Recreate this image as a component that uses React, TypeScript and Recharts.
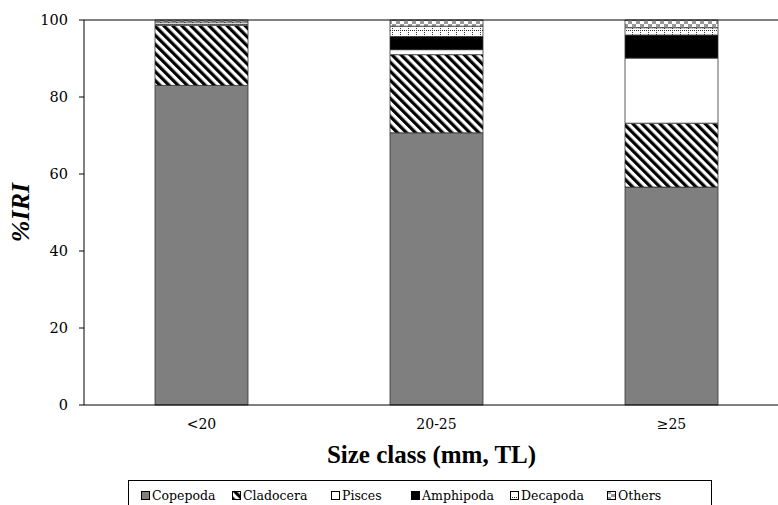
import { BarChart, Bar, XAxis, YAxis, ReferenceLine } from "recharts";

const categories = ["<20", "20-25", "\u226525"];
const copepoda = [83.0, 70.7, 56.6];
const cladocera = [15.6, 20.3, 16.6];
const pisces = [0.3, 1.3, 16.9];
const amphipoda = [0, 3.4, 6.0];
const decapoda = [0.6, 2.7, 1.9];
const others = [0.5, 1.6, 2.0];
const yTicks = [0, 20, 40, 60, 80, 100];

const seriesNames = ["Copepoda", "Cladocera", "Pisces", "Amphipoda", "Decapoda", "Others"];
const seriesValues = [copepoda, cladocera, pisces, amphipoda, decapoda, others];
const seriesFills = [
  "#7f7f7f",
  "url(#hatch)",
  "#ffffff",
  "#000000",
  "url(#dotgrid)",
  "url(#checker)",
];

const data = categories.map((name, i) => {
  const row: any = { name };
  seriesNames.forEach((s, j) => (row[s] = seriesValues[j][i]));
  return row;
});

const FONT = "Liberation Serif, Times New Roman, serif";
const REG_FONT = "DejaVu Serif, serif";
// legend slot widths (marker to next marker)
const legendSlots = [91, 99, 80, 99, 97, 90];

const Patterns = () => (
  <svg width={0} height={0} style={{ position: "absolute" }}>
    <defs>
      <pattern
        id="hatch"
        width={6.4}
        height={6.4}
        patternUnits="userSpaceOnUse"
        patternTransform="rotate(-45)"
      >
        <rect width={6.4} height={6.4} fill="#fff" />
        <rect width={3.2} height={6.4} fill="#000" />
      </pattern>
      <pattern id="dotgrid" width={8} height={6} patternUnits="userSpaceOnUse">
        <rect width={8} height={6} fill="#fff" />
        <line x1={0} y1={0.5} x2={8} y2={0.5} stroke="#333" strokeWidth={1} strokeDasharray="1 1" />
        <line x1={0.5} y1={0} x2={0.5} y2={6} stroke="#333" strokeWidth={1} strokeDasharray="1 1" />
      </pattern>
      <pattern id="checker" width={8} height={6} patternUnits="userSpaceOnUse">
        <rect width={8} height={6} fill="#fff" />
        <rect x={0} y={0} width={4} height={3} fill="#999" />
        <rect x={4} y={3} width={4} height={3} fill="#999" />
      </pattern>
    </defs>
  </svg>
);

const YLabel = (props: any) => {
  const vb = props.viewBox || {};
  const x = vb.x + 20;
  const y = vb.y + vb.height / 2;
  return (
    <text
      x={x}
      y={y}
      transform={`rotate(-90, ${x}, ${y})`}
      textAnchor="middle"
      dominantBaseline="central"
      fontFamily={FONT}
      fontSize={26}
      fontWeight="bold"
      fontStyle="italic"
      fill="#000"
    >
      %IRI
    </text>
  );
};

const XLabel = (props: any) => {
  const vb = props.viewBox || {};
  return (
    <text
      x={vb.x + vb.width / 2 - 5}
      y={vb.y + 58}
      textAnchor="middle"
      fontFamily={FONT}
      fontSize={25}
      fontWeight="bold"
      fill="#000"
    >
      Size class (mm, TL)
    </text>
  );
};

const LegendBox = () => (
  <div
    style={{
      position: "absolute",
      left: 128,
      top: 480,
      width: 584,
      height: 30,
      border: "1px solid #000",
      boxSizing: "border-box",
      display: "flex",
      alignItems: "flex-start",
      paddingTop: 7,
      paddingLeft: 12,
      fontFamily: REG_FONT,
      fontSize: 12.5,
      color: "#000",
    }}
  >
    {seriesNames.map((n, i) => (
      <div
        key={n}
        style={{ display: "flex", alignItems: "center", width: legendSlots[i], whiteSpace: "nowrap" }}
      >
        <svg width={9} height={9} style={{ marginRight: 2 }}>
          <rect x={0.5} y={0.5} width={8} height={8} fill={seriesFills[i]} stroke="#000" strokeWidth={1} />
        </svg>
        <span>{n}</span>
      </div>
    ))}
  </div>
);

export default function App() {
  return (
    <div
      style={{
        position: "absolute",
        left: 0,
        top: 0,
        width: 778,
        height: 505,
        overflow: "hidden",
        background: "#fff",
      }}
    >
      <Patterns />
      <BarChart
        width={790}
        height={505}
        data={data}
        margin={{ top: 20, right: 1, bottom: 0, left: 0 }}
        barSize={93}
      >
        <XAxis
          dataKey="name"
          height={100}
          axisLine={{ stroke: "#000" }}
          tickLine={false}
          tickMargin={8}
          tick={{ fill: "#000", fontSize: 14, fontFamily: REG_FONT }}
          label={{ content: XLabel }}
        />
        <YAxis
          width={84}
          domain={[0, 100]}
          ticks={yTicks}
          axisLine={{ stroke: "#000" }}
          tickLine={{ stroke: "#000" }}
          tickSize={5}
          tickMargin={11}
          tick={{ fill: "#000", fontSize: 14.5, fontFamily: REG_FONT }}
          label={{ content: YLabel }}
        />
        {seriesNames.map((n, i) => (
          <Bar
            key={n}
            dataKey={n}
            stackId="a"
            fill={seriesFills[i]}
            stroke="#333"
            strokeWidth={0.8}
            isAnimationActive={false}
          />
        ))}
        <ReferenceLine y={100} stroke="#000" strokeWidth={1} />
      </BarChart>
      <LegendBox />
    </div>
  );
}
